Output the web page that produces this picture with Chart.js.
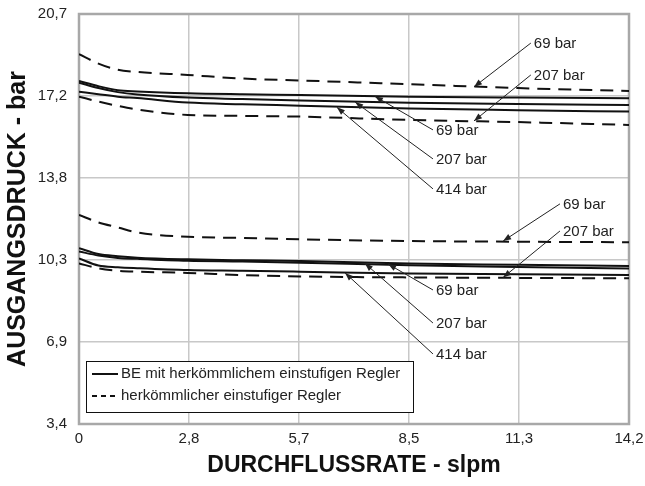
<!DOCTYPE html>
<html>
<head>
<meta charset="utf-8">
<script src="https://cdn.jsdelivr.net/npm/chart.js@4.4.1/dist/chart.umd.min.js"></script>
<style>
  body { margin: 0; background: #fff; }
  #wrap { width: 645px; height: 486px; position: relative; }
</style>
</head>
<body>
<div id="wrap"><canvas id="druckChart"></canvas></div>
<script>
// flow rate positions (slpm) where the curves were read
const xFlow = [0, 0.5, 1, 1.5, 2.8, 4.2, 5.7, 8.5, 11.3, 14.16];

// BE with conventional single stage regulator (solid)
const upperBE69  = [17.87, 17.65, 17.48, 17.43, 17.35, 17.31, 17.28, 17.21, 17.17, 17.14];
const upperBE207 = [17.80, 17.57, 17.40, 17.30, 17.17, 17.11, 17.05, 16.95, 16.90, 16.86];
const upperBE414 = [17.42, 17.31, 17.21, 17.15, 16.96, 16.89, 16.83, 16.71, 16.64, 16.58];
const lowerBE69  = [10.84, 10.59, 10.50, 10.44, 10.37, 10.33, 10.30, 10.19, 10.14, 10.09];
const lowerBE207 = [10.70, 10.53, 10.43, 10.39, 10.31, 10.28, 10.23, 10.12, 10.05, 9.98];
const lowerBE414 = [10.41, 10.11, 10.04, 10.00, 9.92, 9.89, 9.85, 9.77, 9.74, 9.71];

// conventional single stage regulator (dashed)
const upperStd69  = [19.00, 18.60, 18.34, 18.25, 18.12, 17.97, 17.89, 17.73, 17.57, 17.45];
const upperStd207 = [17.21, 17.00, 16.82, 16.67, 16.44, 16.40, 16.37, 16.23, 16.14, 16.02];
const lowerStd69  = [12.24, 11.92, 11.71, 11.50, 11.32, 11.27, 11.21, 11.14, 11.11, 11.09];
const lowerStd207 = [10.20, 9.99, 9.89, 9.85, 9.80, 9.71, 9.65, 9.61, 9.59, 9.57];

// axis ticks
const xTickValues = [0, 2.832, 5.664, 8.496, 11.328, 14.16];
const xTickLabels = ['0', '2,8', '5,7', '8,5', '11,3', '14,2'];
const yTickValues = [3.447, 6.895, 10.342, 13.79, 17.237, 20.684];
const yTickLabels = ['3,4', '6,9', '10,3', '13,8', '17,2', '20,7'];

// callouts: text, label anchor [slpm, bar], arrow tip [slpm, bar]
const calloutText = ['69 bar', '207 bar', '69 bar', '207 bar', '414 bar',
                     '69 bar', '207 bar', '69 bar', '207 bar', '414 bar'];
const calloutLabel = [[11.71, 19.42], [11.71, 18.08], [9.19, 15.77], [9.19, 14.55], [9.19, 13.29],
                      [12.46, 12.66], [12.46, 11.52], [9.19, 9.04], [9.19, 7.65], [9.19, 6.35]];
const calloutTip = [[10.17, 17.62], [10.17, 16.19], [7.62, 17.22], [7.11, 16.98], [6.64, 16.76],
                    [10.92, 11.14], [10.92, 9.61], [7.96, 10.17], [7.36, 10.2], [6.85, 9.8]];

const legendItems = ['BE mit herkömmlichem einstufigen Regler', 'herkömmlicher einstufiger Regler'];

function series(values, dashed) {
    return {
        data: values.map((v, i) => ({ x: xFlow[i], y: v })),
        borderColor: '#111',
        borderWidth: 2,
        borderDash: dashed ? [13, 8] : [],
        pointRadius: 0,
        fill: false,
        cubicInterpolationMode: 'monotone'
    };
}

const frame = {
    id: 'frame',
    beforeDatasetsDraw(chart) {
        const a = chart.chartArea, ctx = chart.ctx;
        ctx.save();
        ctx.strokeStyle = '#a8a8a8';
        ctx.lineWidth = 2.5;
        ctx.strokeRect(a.left, a.top, a.right - a.left, a.bottom - a.top);
        ctx.restore();
    }
};

const callouts = {
    id: 'callouts',
    afterDatasetsDraw(chart) {
        const ctx = chart.ctx, xs = chart.scales.x, ys = chart.scales.y;
        ctx.save();
        ctx.font = '15px "Liberation Sans", Arial, sans-serif';
        ctx.fillStyle = '#222';
        ctx.strokeStyle = '#222';
        ctx.textBaseline = 'middle';
        ctx.textAlign = 'left';
        calloutText.forEach((t, i) => {
            const lx = xs.getPixelForValue(calloutLabel[i][0]);
            const ly = ys.getPixelForValue(calloutLabel[i][1]);
            const tx = xs.getPixelForValue(calloutTip[i][0]);
            const ty = ys.getPixelForValue(calloutTip[i][1]);
            ctx.fillText(t, lx, ly);
            const sx = lx - 3, sy = ly - 1;
            ctx.lineWidth = 1;
            ctx.beginPath();
            ctx.moveTo(sx, sy);
            ctx.lineTo(tx, ty);
            ctx.stroke();
            // arrow head
            const ang = Math.atan2(ty - sy, tx - sx);
            const len = 8, half = 3;
            ctx.beginPath();
            ctx.moveTo(tx, ty);
            ctx.lineTo(tx - len * Math.cos(ang) + half * Math.sin(ang), ty - len * Math.sin(ang) - half * Math.cos(ang));
            ctx.lineTo(tx - len * Math.cos(ang) - half * Math.sin(ang), ty - len * Math.sin(ang) + half * Math.cos(ang));
            ctx.closePath();
            ctx.fill();
        });
        ctx.restore();
    }
};

const boxLegend = {
    id: 'boxLegend',
    afterDraw(chart) {
        const ctx = chart.ctx, a = chart.chartArea;
        const left = a.left + 7, top = a.bottom - 63, w = 327, h = 51;
        ctx.save();
        ctx.fillStyle = '#fff';
        ctx.fillRect(left, top, w, h);
        ctx.strokeStyle = '#111';
        ctx.lineWidth = 1;
        ctx.strokeRect(left + 0.5, top + 0.5, w, h);
        ctx.font = '15px "Liberation Sans", Arial, sans-serif';
        ctx.fillStyle = '#222';
        ctx.textBaseline = 'middle';
        legendItems.forEach((t, i) => {
            const y = top + 13 + i * 22;
            ctx.strokeStyle = '#111';
            ctx.lineWidth = 2;
            ctx.setLineDash(i === 1 ? [5, 4] : []);
            ctx.beginPath();
            ctx.moveTo(left + 6, y);
            ctx.lineTo(left + 32, y);
            ctx.stroke();
            ctx.fillText(t, left + 35, y);
        });
        ctx.restore();
    }
};

new Chart(document.getElementById('druckChart'), {
    type: 'line',
    data: {
        datasets: [
            series(upperBE69, false), series(upperBE207, false), series(upperBE414, false),
            series(lowerBE69, false), series(lowerBE207, false), series(lowerBE414, false),
            series(upperStd69, true), series(upperStd207, true),
            series(lowerStd69, true), series(lowerStd207, true)
        ]
    },
    options: {
        responsive: true,
        maintainAspectRatio: false,
        animation: false,
        devicePixelRatio: 1,
        layout: { padding: { top: 14, right: 16, left: 0, bottom: 0 } },
        plugins: { legend: { display: false }, tooltip: { enabled: false } },
        scales: {
            x: {
                type: 'linear',
                min: 0,
                max: 14.16,
                afterBuildTicks: axis => { axis.ticks = xTickValues.map(v => ({ value: v })); },
                afterFit: scale => {
                    scale.height = 62;
                    scale.paddingLeft = 0;
                    scale.paddingRight = 0;
                },
                ticks: {
                    callback: (v, i) => xTickLabels[i],
                    color: '#222',
                    font: { family: '"Liberation Sans", Arial, sans-serif', size: 15 },
                    maxRotation: 0,
                    padding: 6
                },
                grid: { color: '#c8c8c8', lineWidth: 1.5, drawTicks: false },
                border: { display: false },
                title: {
                    display: true,
                    text: 'DURCHFLUSSRATE - slpm',
                    color: '#111',
                    font: { family: '"Liberation Sans", Arial, sans-serif', size: 23, weight: 'bold' },
                    padding: { top: 0, bottom: 7 }
                }
            },
            y: {
                type: 'linear',
                min: 3.447,
                max: 20.684,
                afterBuildTicks: axis => { axis.ticks = yTickValues.map(v => ({ value: v })); },
                afterFit: scale => {
                    scale.width = 79;
                    scale.paddingTop = 0;
                    scale.paddingBottom = 0;
                },
                ticks: {
                    callback: (v, i) => yTickLabels[i],
                    color: '#222',
                    font: { family: '"Liberation Sans", Arial, sans-serif', size: 15 },
                    padding: 12
                },
                grid: { color: '#c8c8c8', lineWidth: 1.5, drawTicks: false },
                border: { display: false },
                title: {
                    display: true,
                    text: 'AUSGANGSDRUCK - bar',
                    color: '#111',
                    font: { family: '"Liberation Sans", Arial, sans-serif', size: 25, weight: 'bold' },
                    padding: { top: 3, bottom: 0 }
                }
            }
        }
    },
    plugins: [frame, callouts, boxLegend]
});
</script>
</body>
</html>
